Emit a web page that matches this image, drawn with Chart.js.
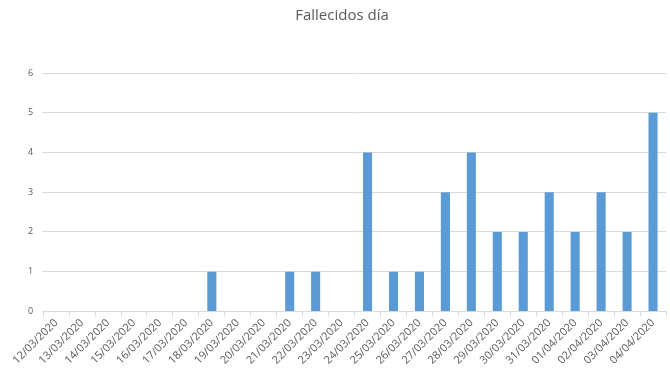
<!DOCTYPE html>
<html>
<head>
<meta charset="utf-8">
<script src="https://cdn.jsdelivr.net/npm/chart.js@4"></script>
<style>
  html, body { margin: 0; padding: 0; background: #fff; }
  #wrap { width: 670px; height: 386px; }
</style>
</head>
<body>
<div id="wrap"><canvas id="myChart" width="670" height="386"></canvas></div>
<script>
// categories (days) and deaths per day
var dias = ['12/03/2020', '13/03/2020', '14/03/2020', '15/03/2020', '16/03/2020', '17/03/2020',
  '18/03/2020', '19/03/2020', '20/03/2020', '21/03/2020', '22/03/2020', '23/03/2020',
  '24/03/2020', '25/03/2020', '26/03/2020', '27/03/2020', '28/03/2020', '29/03/2020',
  '30/03/2020', '31/03/2020', '01/04/2020', '02/04/2020', '03/04/2020', '04/04/2020'];
var fallecidos = [0, 0, 0, 0, 0, 0, 1, 0, 0, 1, 1, 0, 4, 1, 1, 3, 4, 2, 2, 3, 2, 3, 2, 5];
var yTicks = [0, 1, 2, 3, 4, 5, 6];

var ctx = document.getElementById('myChart').getContext('2d');

var myChart = new Chart(ctx, {
  type: 'bar',
  data: {
    labels: dias,
    datasets: [{
      label: 'Fallecidos día',
      data: fallecidos,
      backgroundColor: '#5b9bd5',
      borderWidth: 0,
      barPercentage: 0.7,
      categoryPercentage: 0.5
    }]
  },
  options: {
    responsive: false,
    animation: false,
    layout: { padding: { left: 18, right: 4, top: 0, bottom: 19 } },
    plugins: {
      legend: { display: false },
      tooltip: { enabled: false },
      title: {
        display: true,
        text: 'Fallecidos día',
        color: '#595959',
        font: { family: 'Open Sans', size: 15, weight: 'normal' },
        padding: { top: 7, bottom: 48 }
      }
    },
    scales: {
      x: {
        grid: { display: true, drawOnChartArea: false, offset: true, tickLength: 5, color: '#d9d9d9' },
        border: { color: '#d9d9d9' },
        ticks: {
          color: '#595959',
          font: { family: 'Open Sans', size: 11 },
          minRotation: 45,
          maxRotation: 45,
          autoSkip: false,
          padding: 0
        }
      },
      y: {
        min: 0,
        max: 6,
        afterBuildTicks: function (axis) {
          axis.ticks = yTicks.map(function (v) { return { value: v }; });
        },
        grid: { color: '#d9d9d9', drawTicks: false },
        border: { display: false },
        ticks: {
          color: '#595959',
          font: { family: 'Open Sans', size: 9 },
          padding: 10
        }
      }
    }
  }
});
</script>
</body>
</html>
